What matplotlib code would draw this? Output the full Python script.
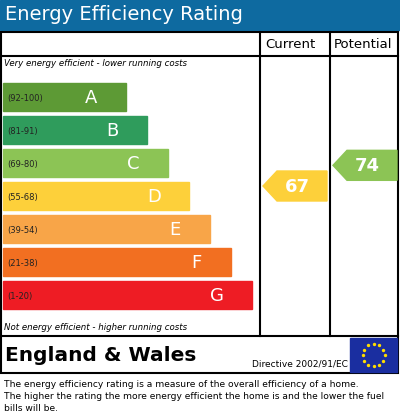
import matplotlib
matplotlib.use("Agg")
import matplotlib.pyplot as plt
from matplotlib.patches import Rectangle, Polygon
import numpy as np

letters = ["A", "B", "C", "D", "E", "F", "G"]
ranges = ["(92-100)", "(81-91)", "(69-80)", "(55-68)", "(39-54)", "(21-38)", "(1-20)"]
lows = [92, 81, 69, 55, 39, 21, 1]
highs = [100, 91, 80, 68, 54, 38, 20]
colors = ["#5d9a35", "#2f9c5c", "#8cc455", "#fdd03a", "#f8a548", "#f26f21", "#ee1c24"]
current = 67
potential = 74

W, H = 400, 419
fig = plt.figure(figsize=(W/100, H/100), dpi=100)
ax = fig.add_axes([0, 0, 1, 1])
ax.set_xlim(0, W); ax.set_ylim(H, 0); ax.axis("off")

ax.add_patch(Rectangle((0, 0), W, 30, color="#0e6aa0"))
ax.text(5, 15, "Energy Efficiency Rating", color="white", fontsize=14, va="center", family="DejaVu Sans")

lw = 1.5
ax.add_patch(Rectangle((1, 32), 397, 341, fill=False, lw=lw, ec="black"))
for x in (260, 330):
    ax.plot([x, x], [32, 336], color="black", lw=lw)
ax.plot([1, 398], [56, 56], color="black", lw=lw)
ax.plot([1, 398], [336, 336], color="black", lw=lw)
ax.text(290, 44, "Current", ha="center", va="center", fontsize=9.5)
ax.text(363, 44, "Potential", ha="center", va="center", fontsize=9.5)
ax.text(4, 64, "Very energy efficient - lower running costs", fontsize=6.2, style="italic", va="center")
ax.text(4, 327, "Not energy efficient - higher running costs", fontsize=6.2, style="italic", va="center")

top0, step, bh = 83, 33, 28
for i, (l, r, c) in enumerate(zip(letters, ranges, colors)):
    y = top0 + i*step
    x1 = 126 + 21*i
    ax.add_patch(Rectangle((3, y), x1-3, bh, color=c))
    ax.text(7, y+bh/2+1, r, fontsize=6, va="center", color="#222")
    ax.text(x1-35, y+bh/2+1, l, fontsize=13, va="center", ha="center", color="white")

def ycenter(v):
    for i in range(len(letters)):
        if lows[i] <= v <= highs[i]:
            y = top0 + i*step
            frac = (v - lows[i]) / (highs[i] - lows[i] + 1)
            return y + bh - frac*bh
    return None

def arrow(x0, x1, v):
    for i in range(len(letters)):
        if lows[i] <= v <= highs[i]:
            c = colors[i]
    yc = ycenter(v)
    h = 30
    pts = [(x0, yc), (x0+14, yc-h/2), (x1, yc-h/2), (x1, yc+h/2), (x0+14, yc+h/2)]
    ax.add_patch(Polygon(pts, color=c))
    ax.text((x0+x1)/2+2, yc+1, str(v), color="white", fontsize=13, fontweight="bold", ha="center", va="center")

arrow(263, 327, current)
arrow(333, 397, potential)

ax.text(5, 355, "England & Wales", fontsize=14.5, fontweight="bold", va="center")
ax.text(252, 364, "Directive 2002/91/EC", fontsize=6.5, va="center")
ax.add_patch(Rectangle((350, 338), 47, 34, color="#1a2ea0"))
ang = np.linspace(0, 2*np.pi, 13)[:-1]
ax.scatter(373.5 + 11*np.cos(ang), 355 + 11*np.sin(ang), s=2, color="#ffdd00", zorder=5)

foot = ("The energy efficiency rating is a measure of the overall efficiency of a home.\n"
        "The higher the rating the more energy efficient the home is and the lower the fuel\n"
        "bills will be.")
ax.text(4, 380, foot, fontsize=6.6, va="top", linespacing=1.4)

fig.savefig("out.png", dpi=100)
